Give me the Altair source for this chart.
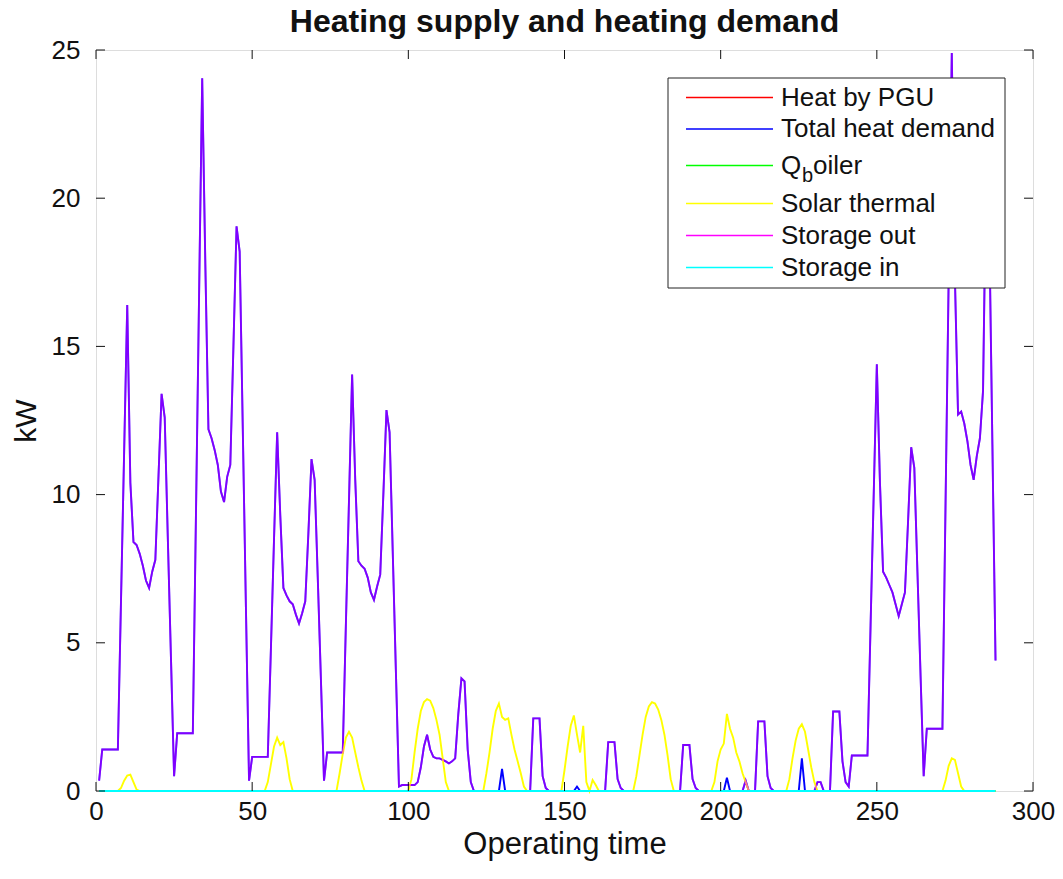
import altair as alt
import pandas as pd

# ---------------- data ----------------
hours = list(range(1, 289))

total_heat_demand = [
    # day 1 (1-24)
    0.35, 1.4, 1.4, 1.4, 1.4, 1.4, 1.4, 6.4, 11.4, 16.4, 10.4, 8.4,
    8.3, 8.0, 7.6, 7.1, 6.85, 7.4, 7.8, 10.6, 13.4, 12.6, 8.5, 4.5,
    # day 2 (25-48)
    0.5, 1.95, 1.95, 1.95, 1.95, 1.95, 1.95, 9.3, 16.7, 24.05, 17.8, 12.2,
    11.9, 11.5, 11.0, 10.1, 9.75, 10.6, 11.0, 15.0, 19.05, 18.2, 12.2, 6.2,
    # day 3 (49-72)
    0.35, 1.15, 1.15, 1.15, 1.15, 1.15, 1.15, 4.8, 8.5, 12.1, 9.3, 6.85,
    6.6, 6.4, 6.3, 5.95, 5.65, 6.0, 6.4, 8.7, 11.2, 10.5, 7.2, 3.8,
    # day 4 (73-96)
    0.35, 1.3, 1.3, 1.3, 1.3, 1.3, 1.3, 5.6, 9.8, 14.05, 10.5, 7.75,
    7.6, 7.5, 7.2, 6.7, 6.45, 6.9, 7.3, 10.0, 12.85, 12.1, 8.1, 4.1,
    # day 5 (97-120)
    0.15, 0.2, 0.2, 0.2, 0.2, 0.2, 0.3, 0.8, 1.5, 1.9, 1.4, 1.15,
    1.1, 1.1, 1.05, 1.0, 0.93, 1.0, 1.1, 2.6, 3.8, 3.7, 1.4, 0.3,
    # day 6 (121-144)
    0.0, 0.0, 0.0, 0.0, 0.0, 0.0, 0.0, 0.0, 0.0, 0.75, 0.0, 0.0,
    0.0, 0.0, 0.0, 0.0, 0.0, 0.0, 0.0, 2.45, 2.45, 2.45, 0.5, 0.1,
    # day 7 (145-168)
    0.0, 0.0, 0.0, 0.0, 0.0, 0.0, 0.0, 0.0, 0.0, 0.15, 0.0, 0.0,
    0.0, 0.0, 0.0, 0.0, 0.0, 0.0, 0.0, 1.65, 1.65, 1.65, 0.4, 0.1,
    # day 8 (169-192)
    0.0, 0.0, 0.0, 0.0, 0.0, 0.0, 0.0, 0.0, 0.0, 0.0, 0.0, 0.0,
    0.0, 0.0, 0.0, 0.0, 0.0, 0.0, 0.0, 1.55, 1.55, 1.55, 0.4, 0.1,
    # day 9 (193-216)
    0.0, 0.0, 0.0, 0.0, 0.0, 0.0, 0.0, 0.0, 0.0, 0.45, 0.0, 0.0,
    0.0, 0.0, 0.0, 0.35, 0.0, 0.0, 0.0, 2.35, 2.35, 2.35, 0.5, 0.1,
    # day 10 (217-240)
    0.0, 0.0, 0.0, 0.0, 0.0, 0.0, 0.0, 0.0, 0.0, 1.1, 0.0, 0.0,
    0.0, 0.0, 0.3, 0.3, 0.0, 0.0, 0.0, 2.68, 2.68, 2.68, 1.0, 0.3,
    # day 11 (241-264)
    0.15, 1.2, 1.2, 1.2, 1.2, 1.2, 1.2, 5.6, 10.0, 14.4, 10.4, 7.4,
    7.2, 6.95, 6.7, 6.3, 5.9, 6.3, 6.7, 9.1, 11.6, 10.9, 7.4, 3.9,
    # day 12 (265-288)
    0.5, 2.1, 2.1, 2.1, 2.1, 2.1, 2.1, 9.7, 17.3, 24.9, 17.3, 12.7,
    12.8, 12.4, 11.8, 11.0, 10.5, 11.3, 11.9, 13.5, 21.0, 19.0, 11.7, 4.4,
]

solar_thermal = [
    # day 1
    0, 0, 0, 0, 0, 0, 0, 0.1, 0.35, 0.52, 0.55, 0.3,
    0.05, 0, 0, 0, 0, 0, 0, 0, 0, 0, 0, 0,
    # day 2
    0, 0, 0, 0, 0, 0, 0, 0, 0, 0, 0, 0,
    0, 0, 0, 0, 0, 0, 0, 0, 0, 0, 0, 0,
    # day 3
    0, 0, 0, 0, 0, 0, 0.3, 0.9, 1.5, 1.8, 1.55, 1.65,
    1.1, 0.4, 0, 0, 0, 0, 0, 0, 0, 0, 0, 0,
    # day 4
    0, 0, 0, 0, 0, 0.6, 1.25, 1.8, 2.0, 1.8, 1.3, 0.8,
    0.35, 0, 0, 0, 0, 0, 0, 0, 0, 0, 0, 0,
    # day 5
    0, 0, 0, 0, 0.4, 1.3, 2.1, 2.7, 3.0, 3.1, 3.05, 2.8,
    2.4, 1.9, 1.1, 0.3, 0, 0, 0, 0, 0, 0, 0, 0,
    # day 6
    0, 0, 0, 0, 0.6, 1.3, 2.1, 2.7, 2.95, 2.5, 2.4, 2.45,
    1.9, 1.4, 1.0, 0.6, 0.15, 0, 0, 0, 0, 0, 0, 0,
    # day 7
    0, 0, 0, 0, 0, 0.7, 1.5, 2.2, 2.55, 1.9, 1.3, 2.2,
    0.3, 0.0, 0.37, 0.2, 0, 0, 0, 0, 0, 0, 0, 0,
    # day 8
    0, 0, 0, 0, 0.5, 1.2, 1.9, 2.5, 2.85, 3.0, 2.95, 2.75,
    2.4, 1.9, 1.2, 0.4, 0, 0, 0, 0, 0, 0, 0, 0,
    # day 9
    0, 0, 0, 0, 0, 0.3, 1.0, 1.4, 1.6, 2.6, 2.1, 1.8,
    1.3, 1.0, 0.6, 0.3, 0, 0, 0, 0, 0, 0, 0, 0,
    # day 10
    0, 0, 0, 0, 0, 0.4, 1.1, 1.7, 2.1, 2.25, 2.0, 1.4,
    0.8, 0.3, 0, 0, 0, 0, 0, 0, 0, 0, 0, 0,
    # day 11
    0, 0, 0, 0, 0, 0, 0, 0, 0, 0, 0, 0,
    0, 0, 0, 0, 0, 0, 0, 0, 0, 0, 0, 0,
    # day 12
    0, 0, 0, 0, 0, 0, 0, 0.35, 0.85, 1.1, 1.05, 0.6,
    0.15, 0, 0, 0, 0, 0, 0, 0, 0, 0, 0, 0,
]

heat_by_pgu = [0.0] * 288
q_boiler = [0.0] * 288
storage_in = [0.0] * 288
# storage output follows the demand except in hours covered by solar heat
storage_out_zero_hours = [130, 154, 202, 226]
storage_out = [0.0 if h in storage_out_zero_hours else v
               for h, v in zip(hours, total_heat_demand)]

series_names = ["Heat by PGU", "Total heat demand", "Q_boiler",
                "Solar thermal", "Storage out", "Storage in"]
series_colors = ["#ff0000", "#0000ff", "#00ff00", "#ffff00", "#ff00ff", "#00ffff"]
series_values = [heat_by_pgu, total_heat_demand, q_boiler,
                 solar_thermal, storage_out, storage_in]

x_tick_values = [0, 50, 100, 150, 200, 250, 300]
y_tick_values = [0, 5, 10, 15, 20, 25]

# ---------------- layout ----------------
W, H = 937, 741
FONT = "Liberation Sans"
INK = "#111111"
TICK = 9

xscale = alt.Scale(domain=[0, 300], nice=False, zero=False)
yscale = alt.Scale(domain=[0, 25], nice=False)
xaxis = alt.Axis(values=x_tick_values, title="Operating time", ticks=False,
                 domain=False, grid=False, labelFlush=False, labelFontSize=26,
                 labelPadding=7, titleFontSize=31, titlePadding=5,
                 titleFontWeight="normal", labelColor=INK, titleColor=INK,
                 labelFont=FONT, titleFont=FONT)
yaxis = alt.Axis(values=y_tick_values, title="kW", ticks=False,
                 domain=False, grid=False, labelFontSize=26, labelPadding=16,
                 titleFontSize=30, titlePadding=10, titleFontWeight="normal",
                 labelColor=INK, titleColor=INK, labelFont=FONT, titleFont=FONT)

layers = []
for name, color, vals in zip(series_names, series_colors, series_values):
    df = pd.DataFrame({"hour": hours, "kW": vals})
    opacity = 0.5 if name == "Storage out" else 1.0
    layers.append(
        alt.Chart(df).mark_line(color=color, strokeWidth=1.9, opacity=opacity)
        .encode(x=alt.X("hour:Q", scale=xscale, axis=xaxis),
                y=alt.Y("kW:Q", scale=yscale, axis=yaxis))
    )

# inward ticks (MATLAB style) on all four sides
xt = pd.DataFrame({"hour": x_tick_values})
yt = pd.DataFrame({"kW": y_tick_values})
layers.append(alt.Chart(xt).mark_rule(color=INK, strokeWidth=1).encode(
    x=alt.X("hour:Q", scale=xscale, axis=xaxis), y=alt.value(H), y2=alt.value(H - TICK)))
layers.append(alt.Chart(xt).mark_rule(color=INK, strokeWidth=1).encode(
    x=alt.X("hour:Q", scale=xscale, axis=xaxis), y=alt.value(0), y2=alt.value(TICK)))
layers.append(alt.Chart(yt).mark_rule(color=INK, strokeWidth=1).encode(
    y=alt.Y("kW:Q", scale=yscale, axis=yaxis), x=alt.value(0), x2=alt.value(TICK)))
layers.append(alt.Chart(yt).mark_rule(color=INK, strokeWidth=1).encode(
    y=alt.Y("kW:Q", scale=yscale, axis=yaxis), x=alt.value(W - TICK), x2=alt.value(W)))

# manual legend (needed for the subscript in Q_boiler)
one = pd.DataFrame({"k": [0]})
LX0, LX1, LY0, LY1 = 572, 909, 28, 238
layers.append(alt.Chart(one).mark_rect(fill="white", stroke="#222222", strokeWidth=1).encode(
    x=alt.value(LX0), x2=alt.value(LX1), y=alt.value(LY0), y2=alt.value(LY1)))
row_y = [47.5, 79, 115.5, 153.5, 185.5, 217.5]
for name, color, ry in zip(series_names, series_colors, row_y):
    layers.append(alt.Chart(one).mark_rule(color=color, strokeWidth=1.5).encode(
        x=alt.value(590), x2=alt.value(677), y=alt.value(ry)))
    if name == "Q_boiler":
        parts = [("Q", 685, ry, 26), ("b", 706, ry + 10, 20), ("oiler", 717, ry, 26)]
    else:
        parts = [(name, 685, ry, 26)]
    for txt, tx, ty, fs in parts:
        layers.append(alt.Chart(one).mark_text(
            text=txt, align="left", baseline="middle", font=FONT,
            fontSize=fs, color=INK).encode(x=alt.value(tx), y=alt.value(ty)))

chart = alt.layer(*layers).properties(
    width=W, height=H,
    title=alt.TitleParams("Heating supply and heating demand", fontSize=32,
                          fontWeight="bold", font=FONT, color=INK,
                          anchor="middle", offset=-2),
    autosize=alt.AutoSizeParams(type="none"),
    padding={"left": 96, "top": 50, "right": 30, "bottom": 88},
).configure_view(stroke=INK, strokeWidth=1).configure(background="white")

chart.save("out.html", embed_options={"renderer": "svg", "actions": False})
